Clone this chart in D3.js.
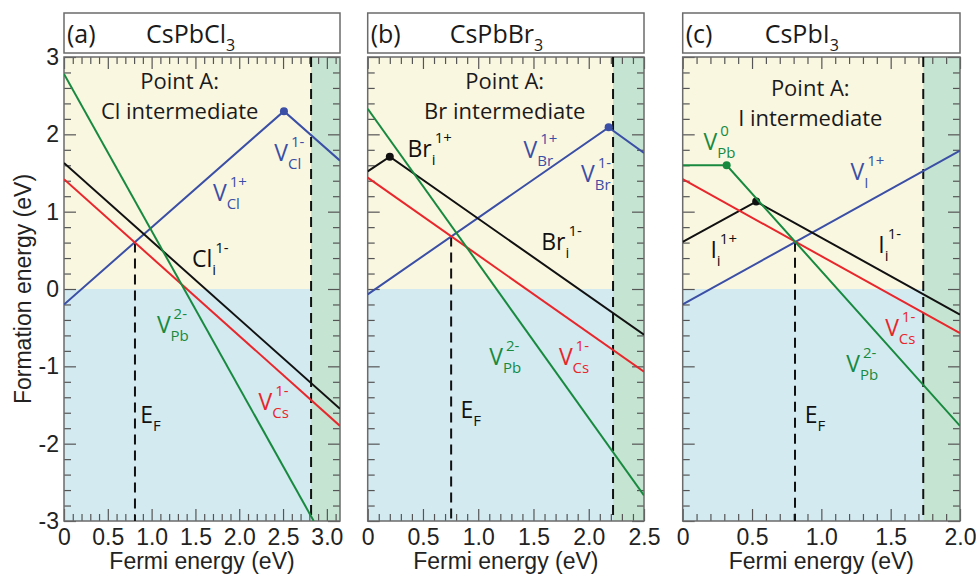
<!DOCTYPE html>
<html>
<head>
<meta charset="utf-8">
<script src="https://cdn.jsdelivr.net/npm/d3@7"></script>
<style>
body { margin: 0; background: #fff; }
svg text { font-family: "Open Sans", sans-serif; fill: #1a1a1a; }
.tick text, .axis-title { font-family: "Liberation Sans", Arial, sans-serif; font-size: 23px; fill: #222; }
.tick line { stroke: #555; stroke-width: 1.2; }
</style>
</head>
<body>
<div id="chart"></div>
<script>
const width = 976;
const height = 575;

// panel layout (pixels)
const plotLeft = [64, 367.7, 682.7];
const plotRight = [340, 644, 960];
const plotTop = 57;
const plotBottom = 521;

const panelTags = ['(a)', '(b)', '(c)'];
const compounds = ['CsPbCl', 'CsPbBr', 'CsPbI'];
const halides = ['Cl', 'Br', 'I'];

// x range of each panel and the conduction band edge (dashed line, green band)
const fermiMax = [3.15, 2.5, 2.0];
const bandGap = [2.82, 2.22, 1.735];
// pinned Fermi level [E_F, formation energy] where the dashed E_F line starts
const pinnedFermi = [[0.81, 0.6], [0.755, 0.68], [0.81, 0.61]];

const xTicks = [[0, 0.5, 1, 1.5, 2, 2.5, 3], [0, 0.5, 1, 1.5, 2, 2.5], [0, 0.5, 1, 1.5, 2]];
const yTicks = [-3, -2, -1, 0, 1, 2, 3];

// defect formation energies, [fermi energy, formation energy] at every kink
const vPb = [
    [[0, 2.78], [2.85, -3.0]],
    [[0, 2.33], [2.5, -2.67]],
    [[0, 1.6], [0.317, 1.6], [2.0, -1.77]]
];
const vCs = [
    [[0, 1.42], [3.15, -1.77]],
    [[0, 1.44], [2.5, -1.07]],
    [[0, 1.42], [2.0, -0.57]]
];
const halideVac = [
    [[0, -0.2], [2.51, 2.3], [3.15, 1.66]],
    [[0, -0.07], [2.18, 2.09], [2.5, 1.76]],
    [[0, -0.2], [2.0, 1.79]]
];
const halideInt = [
    [[0, 1.63], [3.15, -1.55]],
    [[0, 1.52], [0.2, 1.71], [2.5, -0.59]],
    [[0, 0.61], [0.53, 1.13], [2.0, -0.33]]
];

const colors = {
    vPb: '#188a3f',
    vCs: '#e8262b',
    vac: '#3a4fa5',
    int: '#111111'
};

// defect labels: text, subscript, superscript, anchor in data units
const labels = [
    [
        {t: 'V', sub: 'Cl', sup: '1-', x: 2.40, y: 1.65, c: 'vac'},
        {t: 'V', sub: 'Cl', sup: '1+', x: 1.70, y: 1.14, c: 'vac'},
        {t: 'Cl', sub: 'i', sup: '1-', x: 1.46, y: 0.28, c: 'int'},
        {t: 'V', sub: 'Pb', sup: '2-', x: 1.06, y: -0.57, c: 'vPb'},
        {t: 'V', sub: 'Cs', sup: '1-', x: 2.22, y: -1.56, c: 'vCs'},
        {t: 'E', sub: 'F', sup: '', x: 0.87, y: -1.73, c: 'int'}
    ],
    [
        {t: 'Br', sub: 'i', sup: '1+', x: 0.36, y: 1.71, c: 'int'},
        {t: 'V', sub: 'Br', sup: '1+', x: 1.41, y: 1.69, c: 'vac'},
        {t: 'V', sub: 'Br', sup: '1-', x: 1.93, y: 1.39, c: 'vac'},
        {t: 'Br', sub: 'i', sup: '1-', x: 1.57, y: 0.51, c: 'int'},
        {t: 'V', sub: 'Pb', sup: '2-', x: 1.10, y: -0.98, c: 'vPb'},
        {t: 'V', sub: 'Cs', sup: '1-', x: 1.73, y: -0.98, c: 'vCs'},
        {t: 'E', sub: 'F', sup: '', x: 0.84, y: -1.67, c: 'int'}
    ],
    [
        {t: 'V', sub: 'Pb', sup: '0', x: 0.15, y: 1.80, c: 'vPb'},
        {t: 'V', sub: 'I', sup: '1+', x: 1.21, y: 1.41, c: 'vac'},
        {t: 'I', sub: 'i', sup: '1+', x: 0.20, y: 0.40, c: 'int'},
        {t: 'I', sub: 'i', sup: '1-', x: 1.41, y: 0.47, c: 'int'},
        {t: 'V', sub: 'Cs', sup: '1-', x: 1.46, y: -0.61, c: 'vCs'},
        {t: 'V', sub: 'Pb', sup: '2-', x: 1.18, y: -1.07, c: 'vPb'},
        {t: 'E', sub: 'F', sup: '', x: 0.88, y: -1.73, c: 'int'}
    ]
];
// "Point A" heading centre, data units
const headingX = [1.32, 1.24, 0.92];
const headingY = [[2.58, 2.20], [2.58, 2.20], [2.50, 2.11]];

const svg = d3.select('#chart').append('svg')
    .attr('width', width)
    .attr('height', height);

const y = d3.scaleLinear().domain([-3, 3]).range([plotBottom, plotTop]);

for (let i = 0; i < 3; i++) drawPanel(i);

// y axis title
svg.append('text')
    .attr('class', 'axis-title')
    .attr('transform', `translate(31,${(plotTop + plotBottom) / 2}) rotate(-90)`)
    .attr('text-anchor', 'middle')
    .text('Formation energy (eV)');

function drawPanel(i) {
    const x = d3.scaleLinear().domain([0, fermiMax[i]]).range([plotLeft[i], plotRight[i]]);
    const g = svg.append('g');
    const w = plotRight[i] - plotLeft[i];

    // title box
    g.append('rect')
        .attr('x', plotLeft[i]).attr('y', 13)
        .attr('width', w).attr('height', 40)
        .attr('fill', '#fff').attr('stroke', '#6b6b6b').attr('stroke-width', 1.5);
    g.append('text')
        .attr('x', plotLeft[i] + 3).attr('y', 43)
        .style('font-size', '25px')
        .text(panelTags[i]);
    let title = g.append('text')
        .attr('x', plotLeft[i] + 82).attr('y', 43)
        .style('font-size', '25px');
    title.append('tspan').text(compounds[i]);
    title.append('tspan').attr('dy', 8).style('font-size', '16px').text('3');

    // backgrounds
    g.append('rect')
        .attr('x', plotLeft[i]).attr('y', y(3))
        .attr('width', w).attr('height', y(0) - y(3))
        .attr('fill', '#faf7e1');
    g.append('rect')
        .attr('x', plotLeft[i]).attr('y', y(0))
        .attr('width', w).attr('height', y(-3) - y(0))
        .attr('fill', '#d3eaf1');
    g.append('rect')
        .attr('x', x(bandGap[i])).attr('y', y(3))
        .attr('width', x(fermiMax[i]) - x(bandGap[i])).attr('height', y(-3) - y(3))
        .attr('fill', '#c6e4d2');

    drawAxes(g, x, i);

    g.append('rect')
        .attr('x', plotLeft[i]).attr('y', plotTop)
        .attr('width', w).attr('height', plotBottom - plotTop)
        .attr('fill', 'none').attr('stroke', '#6b6b6b').attr('stroke-width', 1.5);

    // dashed lines: pinned Fermi level and band edge
    g.append('line')
        .attr('x1', x(pinnedFermi[i][0])).attr('x2', x(pinnedFermi[i][0]))
        .attr('y1', y(pinnedFermi[i][1])).attr('y2', y(-3))
        .attr('stroke', '#111').attr('stroke-width', 2).attr('stroke-dasharray', '10,6');
    g.append('line')
        .attr('x1', x(bandGap[i])).attr('x2', x(bandGap[i]))
        .attr('y1', y(3)).attr('y2', y(-3))
        .attr('stroke', '#111').attr('stroke-width', 2).attr('stroke-dasharray', '10,6');

    const clipId = 'clip' + i;
    svg.append('clipPath').attr('id', clipId)
        .append('rect')
        .attr('x', plotLeft[i]).attr('y', plotTop)
        .attr('width', w).attr('height', plotBottom - plotTop);

    const line = d3.line().x(d => x(d[0])).y(d => y(d[1]));
    const series = [
        [halideVac[i], colors.vac],
        [halideInt[i], colors.int],
        [vCs[i], colors.vCs],
        [vPb[i], colors.vPb]
    ];
    const lines = g.append('g').attr('clip-path', `url(#${clipId})`);
    for (let s of series) {
        lines.append('path')
            .attr('d', line(s[0]))
            .attr('fill', 'none')
            .attr('stroke', s[1])
            .attr('stroke-width', 2);
        // transition levels at the inner kinks
        lines.selectAll(null)
            .data(s[0].slice(1, -1))
            .enter()
            .append('circle')
            .attr('cx', d => x(d[0]))
            .attr('cy', d => y(d[1]))
            .attr('r', 4)
            .attr('fill', s[1]);
    }

    // headings
    g.append('text')
        .attr('x', x(headingX[i])).attr('y', y(headingY[i][0]))
        .attr('text-anchor', 'middle')
        .style('font-size', '22px')
        .text('Point A:');
    g.append('text')
        .attr('x', x(headingX[i])).attr('y', y(headingY[i][1]))
        .attr('text-anchor', 'middle')
        .style('font-size', '22px')
        .text(halides[i] + ' intermediate');

    for (let l of labels[i]) {
        let main = g.append('text')
            .attr('x', x(l.x)).attr('y', y(l.y))
            .style('fill', colors[l.c])
            .style('font-size', '23px')
            .text(l.t);
        let end = x(l.x) + main.node().getComputedTextLength();
        g.append('text')
            .attr('x', end).attr('y', y(l.y) + 8)
            .style('fill', colors[l.c])
            .style('font-size', '15px')
            .text(l.sub);
        if (l.sup) {
            g.append('text')
                .attr('x', end + 3).attr('y', y(l.y) - 14)
                .style('fill', colors[l.c])
                .style('font-size', '15px')
                .text(l.sup);
        }
    }

    // x axis title
    g.append('text')
        .attr('class', 'axis-title')
        .attr('x', (plotLeft[i] + plotRight[i]) / 2).attr('y', 569)
        .attr('text-anchor', 'middle')
        .text('Fermi energy (eV)');
}

function drawAxes(g, x, i) {
    const majorX = xTicks[i];
    const minorX = d3.range(0, fermiMax[i] + 1e-6, 0.1)
        .filter(v => !majorX.some(m => Math.abs(m - v) < 1e-6));
    const minorY = d3.range(-3, 3.0001, 0.2)
        .filter(v => Math.abs(v - Math.round(v)) > 1e-6);
    const fmt = d => d === 0 ? '0' : d3.format('.1f')(d);
    const noDomain = a => a.select('.domain').remove();

    g.append('g').attr('transform', `translate(0,${plotBottom})`)
        .call(d3.axisBottom(x).tickValues(majorX).tickSize(-12).tickPadding(8).tickFormat(fmt))
        .call(noDomain);
    g.append('g').attr('transform', `translate(0,${plotBottom})`)
        .call(d3.axisBottom(x).tickValues(minorX).tickSize(-7).tickFormat(''))
        .call(noDomain);
    g.append('g').attr('transform', `translate(0,${plotTop})`)
        .call(d3.axisTop(x).tickValues(majorX).tickSize(-12).tickFormat(''))
        .call(noDomain);
    g.append('g').attr('transform', `translate(0,${plotTop})`)
        .call(d3.axisTop(x).tickValues(minorX).tickSize(-7).tickFormat(''))
        .call(noDomain);

    g.append('g').attr('transform', `translate(${plotLeft[i]},0)`)
        .call(d3.axisLeft(y).tickValues(yTicks).tickSize(-12).tickPadding(5)
            .tickFormat(i === 0 ? d3.format('d') : ''))
        .call(noDomain)
        .selectAll('text').text(d => i === 0 ? String(d) : '');
    g.append('g').attr('transform', `translate(${plotLeft[i]},0)`)
        .call(d3.axisLeft(y).tickValues(minorY).tickSize(-7).tickFormat(''))
        .call(noDomain);
    g.append('g').attr('transform', `translate(${plotRight[i]},0)`)
        .call(d3.axisRight(y).tickValues(yTicks).tickSize(-12).tickFormat(''))
        .call(noDomain);
    g.append('g').attr('transform', `translate(${plotRight[i]},0)`)
        .call(d3.axisRight(y).tickValues(minorY).tickSize(-7).tickFormat(''))
        .call(noDomain);
}
</script>
</body>
</html>
